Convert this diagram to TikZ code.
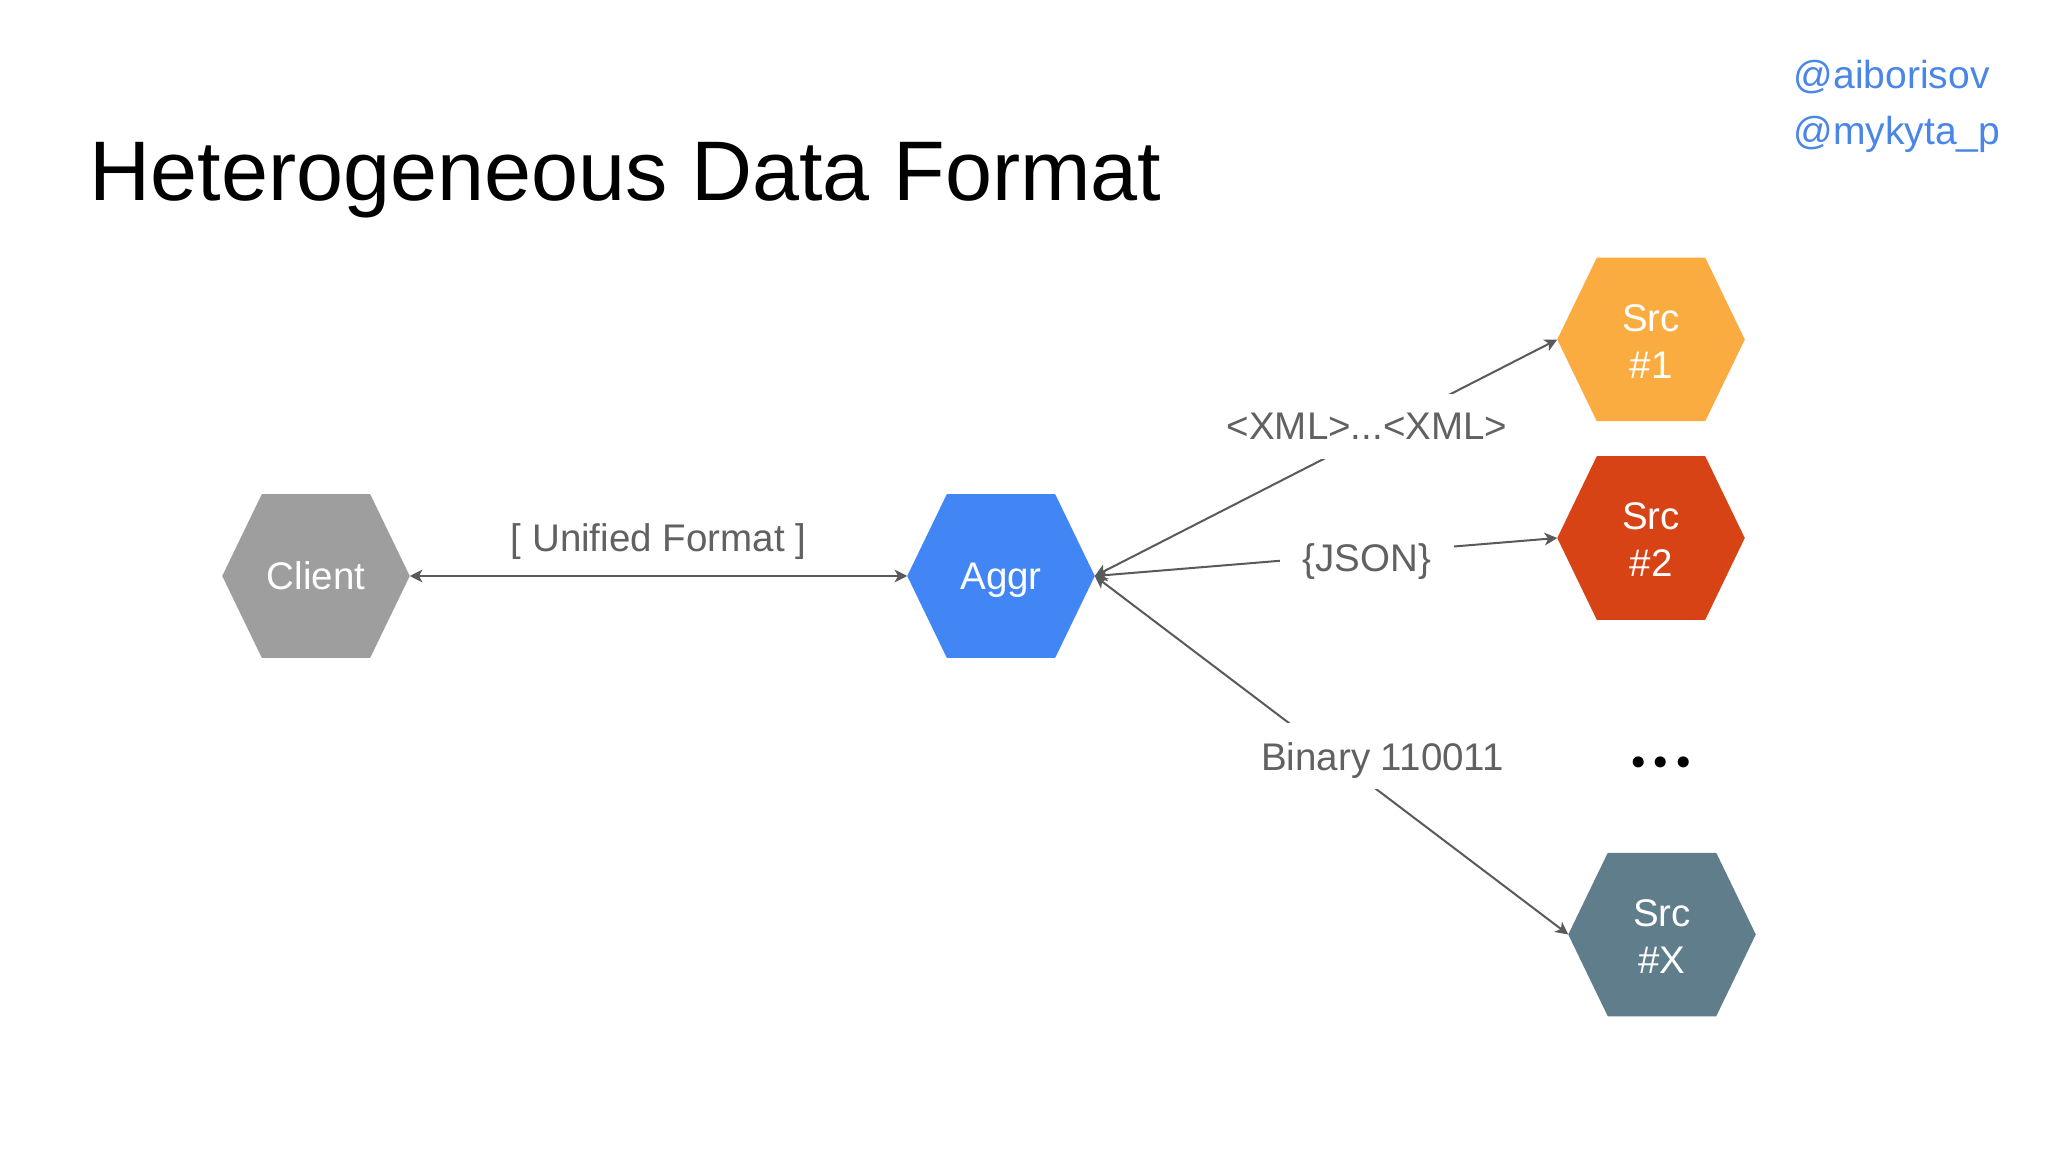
\documentclass[tikz,border=0pt]{standalone}
\usepackage{fontspec}
\setmainfont{Liberation Sans}
\newfontfamily\dejavu{DejaVu Sans}
\usetikzlibrary{arrows.meta,backgrounds}
\definecolor{clientgray}{HTML}{9E9E9E}
\definecolor{aggrblue}{HTML}{4285F4}
\definecolor{srcorange}{HTML}{FBAC40}
\definecolor{srcred}{HTML}{D84315}
\definecolor{srcslate}{HTML}{607D8B}
\definecolor{linegray}{HTML}{5A5A5A}
\definecolor{labelgray}{HTML}{616161}
\definecolor{handleblue}{HTML}{4A86E8}
\newcommand\hexat[4]{%
  \node[hexnode] (#1) at (#2) {#4};
  \begin{pgfonlayer}{background}
    \fill[#3] (#1.west) -- ([xshift=0.395cm]#1.north west) -- ([xshift=-0.395cm]#1.north east)
      -- (#1.east) -- ([xshift=-0.395cm]#1.south east) -- ([xshift=0.395cm]#1.south west) -- cycle;
  \end{pgfonlayer}}
\newcommand\topstrut{\rule{0pt}{8.8pt}}
\begin{document}
\begin{tikzpicture}[x=0.01cm,y=-0.01cm,
  hexnode/.style={shape=rectangle, minimum width=1.86cm, minimum height=1.62cm, inner sep=0pt,
    text=white, align=center, font=\fontsize{10.95pt}{13.37pt}\selectfont},
  conn/.style={draw=linegray, line width=0.57pt,
    {Stealth[length=3.6pt,width=3.6pt,inset=1pt]}-{Stealth[length=3.6pt,width=3.6pt,inset=1pt]}},
  lbl/.style={fill=white, text=labelgray, font=\fontsize{10.95pt}{13.37pt}\selectfont,
    inner xsep=0.23cm, inner ysep=0.19cm, text depth=0pt, anchor=base},
  titletext/.style={anchor=base west, inner sep=0pt, font=\fontsize{24.05pt}{29pt}\selectfont},
  handle/.style={anchor=base west, inner sep=0pt, text=handleblue, font=\fontsize{11.1pt}{13.5pt}\selectfont}]
\begin{pgfonlayer}{background}
  \fill[white] (0,0) rectangle (2048,1152);
\end{pgfonlayer}
\useasboundingbox (0,0) rectangle (2048,1152);

\node[titletext] (title) at (89,201) {Heterogeneous Data Format};
\node[handle] (h1) at (1793,89) {@aiborisov};
\node[handle] (h2) at (1793,145) {@mykyta\_p};

\hexat{client}{316,576}{clientgray}{Client}
\hexat{aggr}{1001,576}{aggrblue}{A\smash{gg}r}
\hexat{src1}{1651,339.5}{srcorange}{\topstrut Src\\\#1}
\hexat{src2}{1651,538}{srcred}{\topstrut Src\\\#2}
\hexat{srcx}{1662,934.5}{srcslate}{\topstrut Src\\\#X}

\draw[conn] (client.east) -- (aggr.west);
\draw[conn] (aggr.east) -- (src1.west);
\draw[conn] (aggr.east) -- (src2.west);
\draw[conn] (aggr.east) -- (srcx.west);

\node[lbl, fill=none] (lunified) at (658.5,551.7) {[ Unified Format ]};
\node[lbl] (lxml) at (1367,440) {<XML>...<XML>};
\node[lbl] (ljson) at (1367,572) {\{JSON\}};
\node[lbl] (lbin) at (1382.5,770) {Binary 110011};

\node[anchor=base, inner sep=0pt, font=\dejavu\fontsize{10.8pt}{13pt}\selectfont] (dots) at (1661,776) {•••};
\end{tikzpicture}
\end{document}
